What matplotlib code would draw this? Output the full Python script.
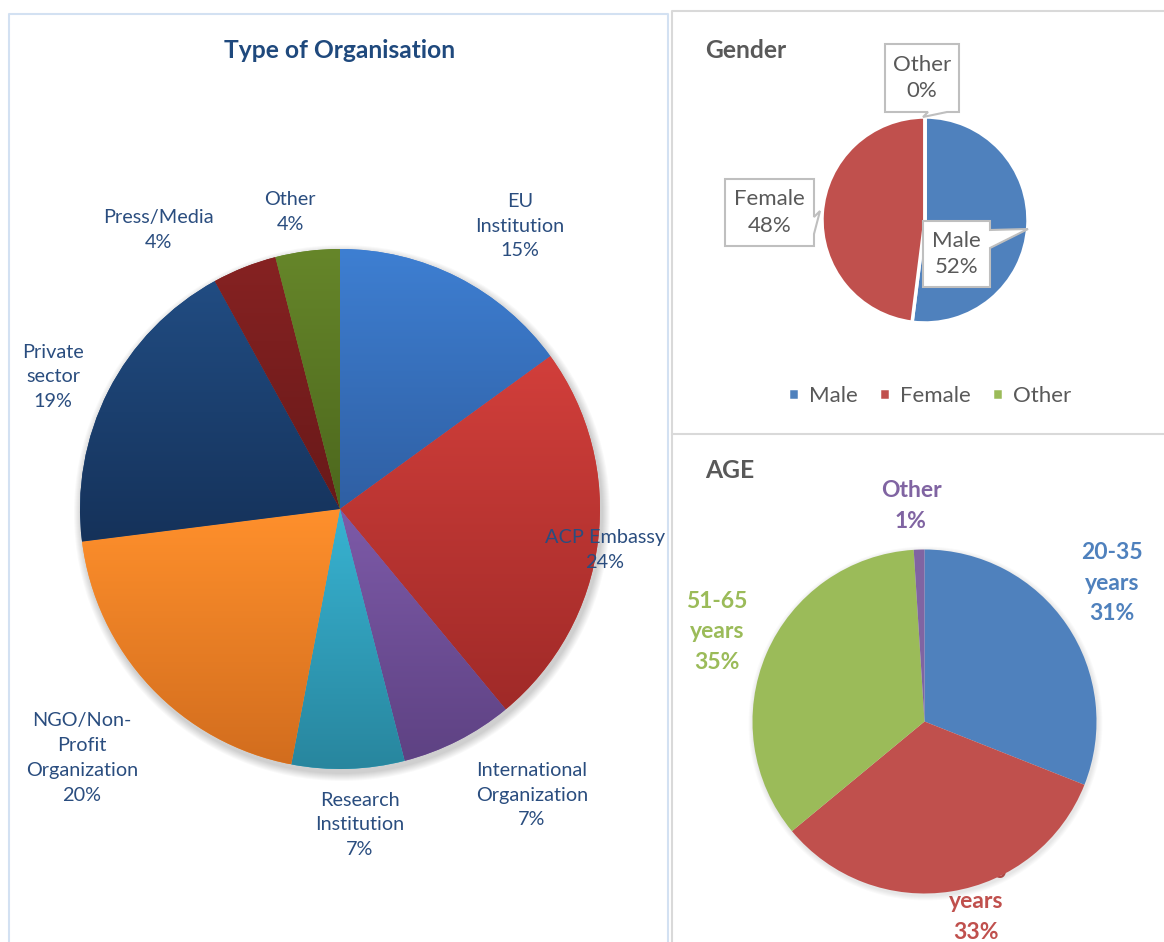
import numpy as np
import matplotlib.pyplot as plt
from matplotlib.colors import LinearSegmentedColormap
from matplotlib.patches import Polygon, Circle
from matplotlib.lines import Line2D

W, H = 1164, 942

# ---- data
org_names = ["EU\nInstitution", "ACP Embassy", "International\nOrganization",
             "Research\nInstitution", "NGO/Non-\nProfit\nOrganization",
             "Private\nsector", "Press/Media", "Other"]
org_pct = [15, 24, 7, 7, 20, 19, 4, 4]

gender_names = ["Male", "Female", "Other"]
gender_pct = [52, 48, 0]

age_names = ["20-35\nyears", "36-50\nyears", "51-65\nyears", "Other"]
age_pct = [31, 33, 35, 1]

# ---- styles / layout (pixel coords, y measured from the top)
org_grad = [("#3e7fd2", "#2f5fa3"), ("#d23f3b", "#a02a28"),
            ("#7d5aa8", "#5e4283"), ("#38b3d2", "#28869e"),
            ("#ff902c", "#d26d1e"), ("#214c82", "#15325a"),
            ("#862222", "#681919"), ("#66862a", "#4c671d")]
org_label_pos = [(520, 226), (605, 550), (532, 795), (360, 825),
                 (82, 758), (53, 377), (158, 230), (290, 212)]
gender_colors = ["#4f81bd", "#c0504d", "#9bbb59"]
age_colors = ["#4f81bd", "#c0504d", "#9bbb59", "#8064a2"]
age_label_pos = [(1112, 583), (976, 902), (717, 632), (911, 506)]

NAVY = "#1f497d"
GREY = "#595959"

plt.rcParams["font.family"] = ["Lato", "DejaVu Sans"]


def Y(y):
    return H - y


fig = plt.figure(figsize=(W / 100, H / 100), dpi=100)
ax = fig.add_axes([0, 0, 1, 1])

# panel borders
ax.add_line(Line2D([9, 9, 668, 668], [Y(945), Y(14), Y(14), Y(945)], color="#d3e1f2", lw=1.5))
ax.add_line(Line2D([672, 672, 1170], [Y(945), Y(11), Y(11)], color="#d9d9d9", lw=1.5))
ax.add_line(Line2D([672, 1170], [Y(434), Y(434)], color="#d9d9d9", lw=1.5))

# ---- Type of Organisation
ax.text(340, Y(50), "Type of Organisation", ha="center", va="center",
        fontsize=17.7, fontweight="bold", color=NAVY)

cx, cy, r = 340, 509, 260
for i in range(8):
    ax.add_patch(Circle((cx + 2, Y(cy + 4)), r + 1 + i, fc="black", ec="none",
                        alpha=0.025, zorder=0.2))
wedges, _ = ax.pie(org_pct, center=(cx, Y(cy)), radius=r, startangle=90,
                   counterclock=False, frame=True, colors=[c[0] for c in org_grad],
                   wedgeprops=dict(lw=0))
grad = np.linspace(0, 1, 256).reshape(-1, 1)
for w, (light, dark) in zip(wedges, org_grad):
    ext = w.get_path().get_extents()
    cmap = LinearSegmentedColormap.from_list("g", [dark, light])
    im = ax.imshow(grad, extent=[ext.x0, ext.x1, ext.y0, ext.y1], origin="lower",
                   cmap=cmap, aspect="auto", zorder=1.1, interpolation="bilinear")
    im.set_clip_path(w)

for name, pct, (x, y) in zip(org_names, org_pct, org_label_pos):
    ax.text(x, Y(y), f"{name}\n{pct}%", ha="center", va="center", fontsize=14.3,
            color="#2a4d7f", linespacing=1.56, zorder=5)

# ---- Gender
ax.text(705, Y(51), "Gender", ha="left", va="center", fontsize=17.7,
        fontweight="bold", color=GREY)
gw, _ = ax.pie(gender_pct, center=(925, Y(220)), radius=103, startangle=90,
               counterclock=False, frame=True, colors=gender_colors,
               wedgeprops=dict(lw=2.5, edgecolor="white"))

callouts = {
    "Other": [(885, 44), (959, 44), (959, 112), (947, 112), (923, 117),
              (928, 112), (885, 112)],
    "Female": [(725, 179), (814, 179), (814, 217), (820, 211), (814, 234),
               (814, 246), (725, 246)],
    "Male": [(923, 221), (990, 221), (990, 230), (1028, 229), (990, 248),
             (990, 287), (923, 287)],
}
for name, pct in zip(gender_names, gender_pct):
    pts = callouts[name]
    ax.add_patch(Polygon([(x, Y(y)) for x, y in pts], closed=True, fc="white",
                         ec="#bfbfbf", lw=1.5, zorder=4))
    xs = [p[0] for p in pts]
    ys = [p[1] for p in pts]
    bx = (min(xs[:2]) + max(xs[:2])) / 2
    by = (ys[0] + ys[-1]) / 2
    ax.text(bx, Y(by), f"{name}\n{pct}%", ha="center", va="center",
            fontsize=16, color=GREY, linespacing=1.4, zorder=5)

ax.legend(gw, gender_names, ncol=3, loc="center",
          bbox_to_anchor=(930 / W, Y(396) / H), frameon=False, fontsize=16,
          handlelength=0.5, handleheight=0.5, handletextpad=0.45,
          columnspacing=0.95, labelcolor=GREY)

# ---- AGE
ax.text(705, Y(470), "AGE", ha="left", va="center", fontsize=17.7,
        fontweight="bold", color=GREY)
acx, acy, ar = 924.5, 721.5, 172
for i in range(5):
    ax.add_patch(Circle((acx + 1, Y(acy + 2)), ar + 1 + i, fc="black", ec="none",
                        alpha=0.02, zorder=0.2))
ax.pie(age_pct, center=(acx, Y(acy)), radius=ar, startangle=90,
       counterclock=False, frame=True, colors=age_colors, wedgeprops=dict(lw=0))
for name, pct, (x, y), c in zip(age_names, age_pct, age_label_pos, age_colors):
    ax.text(x, Y(y), f"{name}\n{pct}%", ha="center", va="center", fontsize=16.5,
            fontweight="bold", color=c, linespacing=1.55, zorder=0.1)

ax.set_xlim(0, W)
ax.set_ylim(0, H)
ax.set_aspect("auto")
ax.set_axis_off()

fig.savefig("out.png", dpi=100, facecolor="white")
